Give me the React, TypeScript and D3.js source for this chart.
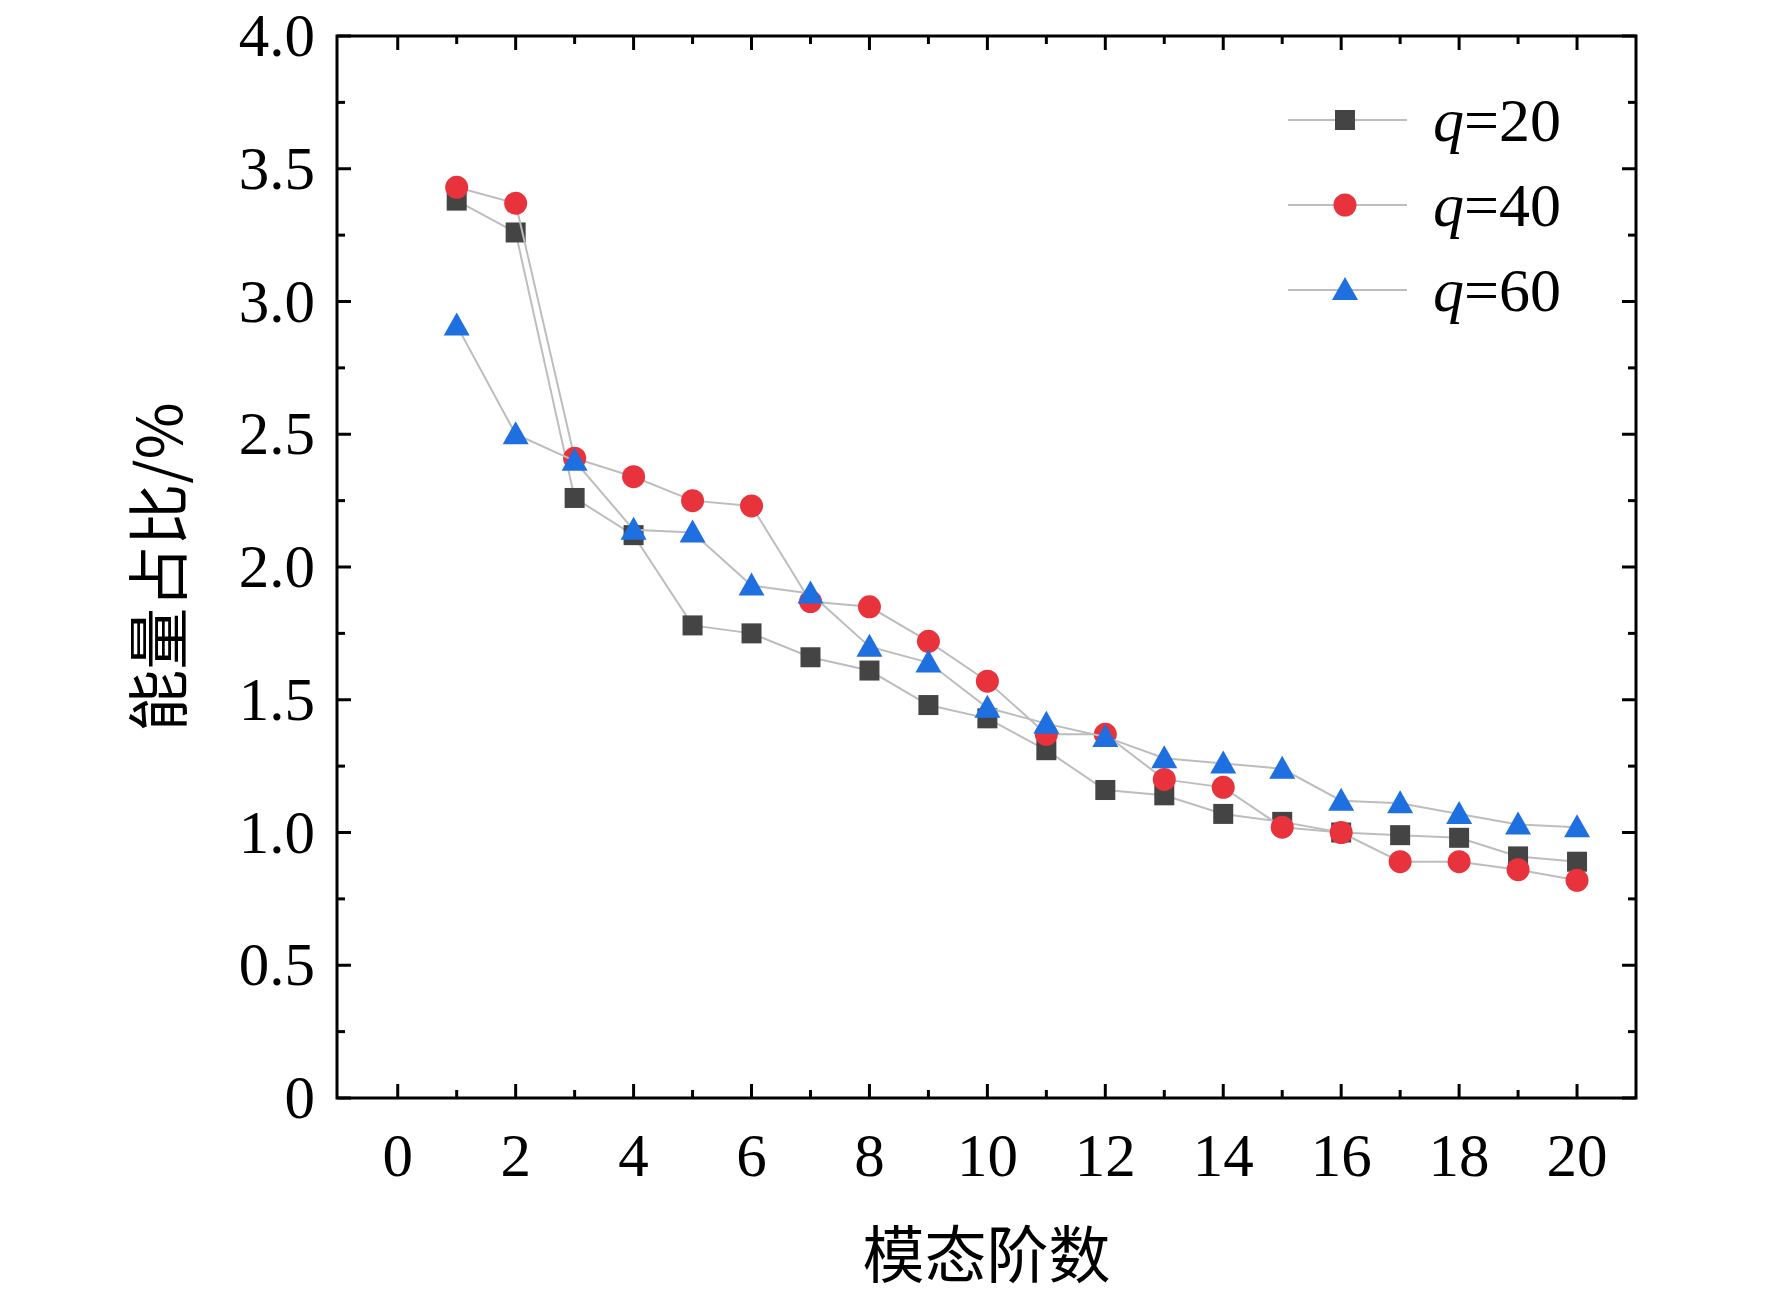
import * as d3 from 'd3'

const modes = d3.range(1, 21)
const q20 = [3.38, 3.26, 2.26, 2.12, 1.78, 1.75, 1.66, 1.61, 1.48, 1.43, 1.31, 1.16, 1.14, 1.07, 1.04, 1.0, 0.99, 0.98, 0.91, 0.89]
const q40 = [3.43, 3.37, 2.41, 2.34, 2.25, 2.23, 1.87, 1.85, 1.72, 1.57, 1.37, 1.37, 1.2, 1.17, 1.02, 1.0, 0.89, 0.89, 0.86, 0.82]
const q60 = [2.91, 2.5, 2.4, 2.14, 2.13, 1.93, 1.9, 1.7, 1.64, 1.47, 1.41, 1.36, 1.28, 1.26, 1.24, 1.12, 1.11, 1.07, 1.03, 1.02]
const xTicks = d3.range(0, 21, 2)
const yTicks = [0, 0.5, 1, 1.5, 2, 2.5, 3, 3.5, 4]
const yLabels = ['0', '0.5', '1.0', '1.5', '2.0', '2.5', '3.0', '3.5', '4.0']
const series = [
  { name: '20', values: q20, shape: 'square', color: '#444444' },
  { name: '40', values: q40, shape: 'circle', color: '#e8323c' },
  { name: '60', values: q60, shape: 'triangle', color: '#1e6fe0' },
]

const W = 1772, H = 1299
const L = 337, R = 1636, T = 36, B = 1098
const font = '"Liberation Serif", "Times New Roman", serif'

function Marker({ shape, x, y, color }: { shape: string; x: number; y: number; color: string }) {
  if (shape === 'square') return <rect x={x - 10} y={y - 10} width={20} height={20} fill={color} />
  if (shape === 'circle') return <circle cx={x} cy={y} r={11.5} fill={color} />
  return <path d={`M${x},${y - 13}L${x + 13},${y + 10}L${x - 13},${y + 10}Z`} fill={color} />
}

export default function App() {
  const x = d3.scaleLinear().domain([-1.03, 21]).range([L, R])
  const y = d3.scaleLinear().domain([0, 4]).range([B, T])
  const line = d3.line<number>().x((_, i) => x(modes[i])).y((d) => y(d))
  const minorX = d3.range(0, 21)
  const minorY = d3.range(0, 4.01, 0.25)
  return (
    <svg width={W} height={H} style={{ position: 'fixed', left: 0, top: 0, background: '#fff' }} fontFamily={font}>
      <rect x={L} y={T} width={R - L} height={B - T} fill="none" stroke="#000" strokeWidth={3} />
      {minorX.map((v) => {
        const len = v % 2 === 0 ? 14 : 8
        return (
          <g key={'x' + v} stroke="#000" strokeWidth={3}>
            <line x1={x(v)} x2={x(v)} y1={B} y2={B - len} />
            <line x1={x(v)} x2={x(v)} y1={T} y2={T + len} />
          </g>
        )
      })}
      {minorY.map((v) => {
        const len = Math.abs(v * 2 - Math.round(v * 2)) < 1e-6 ? 14 : 8
        return (
          <g key={'y' + v} stroke="#000" strokeWidth={3}>
            <line x1={L} x2={L + len} y1={y(v)} y2={y(v)} />
            <line x1={R} x2={R - len} y1={y(v)} y2={y(v)} />
          </g>
        )
      })}
      {xTicks.map((v) => (
        <text key={v} x={x(v)} y={B + 78} fontSize={61} textAnchor="middle">{v}</text>
      ))}
      {yTicks.map((v, i) => (
        <text key={v} x={L - 22} y={y(v) + 20} fontSize={61} textAnchor="end">{yLabels[i]}</text>
      ))}
      <text x={(L + R) / 2} y={1278} fontSize={62} textAnchor="middle" fontFamily='"Noto Sans CJK SC", serif'>模态阶数</text>
      <text transform={`translate(182,${(T + B) / 2}) rotate(-90)`} fontSize={62} textAnchor="middle" fontFamily='"Noto Sans CJK SC", serif'>能量占比/%</text>
      {series.map((s) => (
        <g key={s.name}>
          <path d={line(s.values) ?? ''} fill="none" stroke="#bdbdbd" strokeWidth={2} />
          {s.values.map((v, i) => (
            <Marker key={i} shape={s.shape} x={x(modes[i])} y={y(v)} color={s.color} />
          ))}
        </g>
      ))}
      {series.map((s, i) => {
        const ly = 120 + i * 85
        return (
          <g key={'l' + s.name}>
            <line x1={1288} x2={1407} y1={ly} y2={ly} stroke="#bdbdbd" strokeWidth={2} />
            <Marker shape={s.shape} x={1345} y={ly} color={s.color} />
            <text x={1433} y={ly + 21} fontSize={62}>
              <tspan fontStyle="italic">q</tspan>={s.name}
            </text>
          </g>
        )
      })}
    </svg>
  )
}
